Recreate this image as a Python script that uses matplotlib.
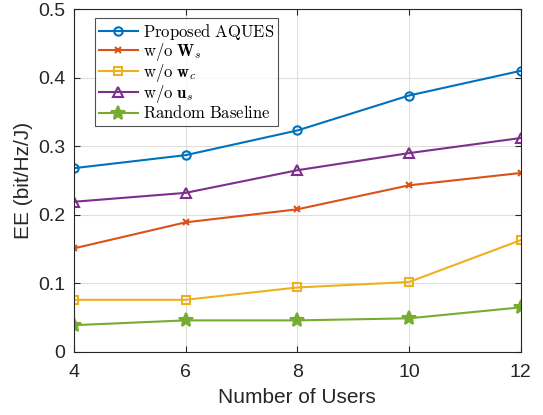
import matplotlib
matplotlib.use("Agg")
import matplotlib.pyplot as plt

users = [4, 6, 8, 10, 12]
ee_proposed = [0.268, 0.287, 0.323, 0.374, 0.410]
ee_no_Ws = [0.151, 0.189, 0.208, 0.243, 0.261]
ee_no_wc = [0.076, 0.076, 0.094, 0.102, 0.163]
ee_no_us = [0.219, 0.232, 0.265, 0.290, 0.312]
ee_random = [0.039, 0.046, 0.046, 0.049, 0.065]

labels = [r"$\mathrm{Proposed\ AQUES}$",
          r"$\mathrm{w/o}\ \mathbf{W}_s$",
          r"$\mathrm{w/o}\ \mathbf{w}_c$",
          r"$\mathrm{w/o}\ \mathbf{u}_s$",
          r"$\mathrm{Random\ Baseline}$"]

plt.rcParams["mathtext.fontset"] = "cm"
plt.rcParams["font.family"] = ["Liberation Sans", "DejaVu Sans"]

fig = plt.figure(figsize=(5.43, 4.15), dpi=100)
ax = fig.add_axes([0.136, 0.152, 0.823, 0.826])

series = [
    (ee_proposed, "#0072BD", "o", 6, "none"),
    (ee_no_Ws, "#D95319", "x", 5, None),
    (ee_no_wc, "#EDB120", "s", 5.5, "none"),
    (ee_no_us, "#7E2F8E", "^", 7, "none"),
    (ee_random, "#77AC30", "*", 10, None),
]
for (vals, col, mk, ms, mfc), lab in zip(series, labels):
    kw = dict(color=col, marker=mk, markersize=ms, linewidth=1.5,
              markeredgewidth=1.5, label=lab)
    if mfc is not None:
        kw["markerfacecolor"] = mfc
    ax.plot(users, vals, **kw)

ax.set_xlim(4, 12)
ax.set_ylim(0, 0.5)
ax.set_xticks([4, 6, 8, 10, 12])
ax.set_yticks([0, 0.1, 0.2, 0.3, 0.4, 0.5])
ax.set_yticklabels(["0", "0.1", "0.2", "0.3", "0.4", "0.5"])
ax.grid(True, color="#dedede", linewidth=0.8)
ax.set_axisbelow(True)
for sp in ax.spines.values():
    sp.set_color("#262626")
    sp.set_linewidth(0.8)
ax.tick_params(direction="in", top=True, right=True, length=4,
               labelsize=14, colors="#262626")
ax.tick_params(axis="x", pad=9)
ax.tick_params(axis="y", pad=6)
ax.set_xlabel("Number of Users", fontsize=15, color="#262626", labelpad=5)
ax.set_ylabel("EE (bit/Hz/J)", fontsize=15, color="#262626", labelpad=4)

leg = ax.legend(loc="upper left", bbox_to_anchor=(0.04, 0.985), fontsize=12,
                frameon=True, fancybox=False, edgecolor="#262626",
                handlelength=2.3, handletextpad=0.3, labelspacing=-0.05,
                borderpad=0.25, borderaxespad=0.2)
leg.get_frame().set_linewidth(0.8)

fig.savefig("out.png", dpi=100)
